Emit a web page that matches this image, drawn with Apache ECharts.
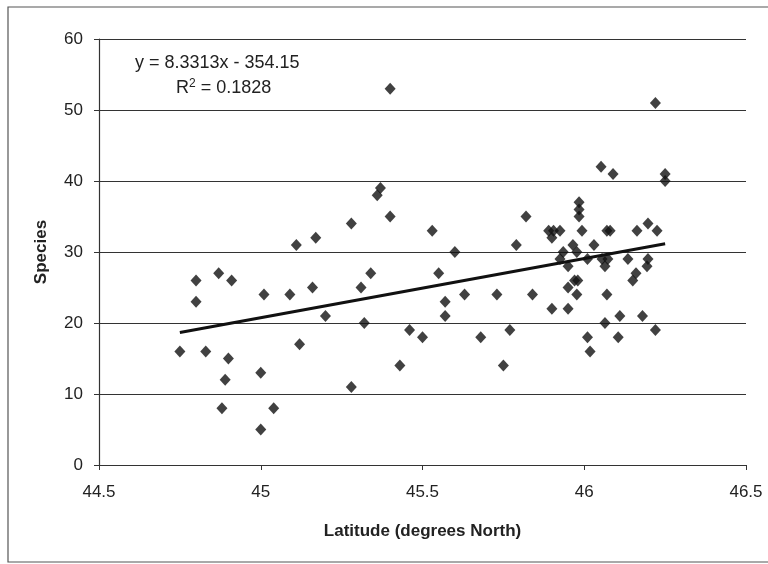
<!DOCTYPE html>
<html>
<head>
<meta charset="utf-8">
<style>html,body{margin:0;padding:0;background:#fff}#c{width:768px;height:564px}</style>
<script src="https://cdn.jsdelivr.net/npm/echarts@6/dist/echarts.min.js"></script>
</head>
<body>
<div id="c"></div>
<script>
var latitude = [44.75,44.80,44.80,44.83,44.87,44.91,44.90,44.89,44.88,45.00,45.00,45.01,45.04,45.09,45.11,45.12,45.16,45.17,45.20,45.28,45.28,45.31,45.32,45.34,45.36,45.37,45.40,45.40,45.43,45.46,45.50,45.53,45.55,45.57,45.57,45.60,45.63,45.68,45.73,45.75,45.77,45.79,45.82,45.84,45.89,45.905,45.925,45.90,45.90,45.935,45.925,45.95,45.95,45.95,45.965,45.97,45.98,45.977,45.977,45.984,45.984,45.984,45.993,46.01,46.01,46.018,46.03,46.052,46.089,46.055,46.064,46.073,46.07,46.08,46.064,46.07,46.105,46.11,46.135,46.15,46.16,46.163,46.18,46.194,46.197,46.197,46.22,46.225,46.22,46.25,46.25];
var species  = [16,26,23,16,27,26,15,12,8,13,5,24,8,24,31,17,25,32,21,34,11,25,20,27,38,39,53,35,14,19,18,33,27,23,21,30,24,18,24,14,19,31,35,24,33,33,33,32,22,30,29,28,25,22,31,26,26,24,30,37,36,35,33,29,18,16,31,42,41,29,28,29,33,33,20,24,18,21,29,26,27,33,21,28,29,34,51,33,19,41,40];
var slope = 8.3313, intercept = -354.15;
var equationText = 'y = 8.3313x - 354.15';
var r2Text = 'R{sup|2} = 0.1828';
var xTicks = [44.5, 45, 45.5, 46, 46.5];
var yTicks = [0, 10, 20, 30, 40, 50, 60];

var points = latitude.map(function (x, i) { return [x, species[i]]; });
var xMin = Math.min.apply(null, latitude), xMax = Math.max.apply(null, latitude);
var trend = [[xMin, slope * xMin + intercept], [xMax, slope * xMax + intercept]];

var font = '"Liberation Sans", Arial, sans-serif';
var chart = echarts.init(document.getElementById('c'), null, {renderer: 'canvas'});
chart.setOption({
  animation: false,
  backgroundColor: '#fff',
  grid: {left: 99, top: 39, right: 22, bottom: 99, containLabel: false},
  xAxis: {
    type: 'value', min: 44.5, max: 46.5, interval: 0.5,
    name: 'Latitude (degrees North)', nameLocation: 'middle', nameGap: 58,
    nameTextStyle: {fontFamily: font, fontWeight: 'bold', fontSize: 17, color: '#222'},
    axisLine: {lineStyle: {color: '#333', width: 1.2}},
    axisTick: {show: true, inside: false, length: 5, lineStyle: {color: '#333'}},
    axisLabel: {fontFamily: font, fontSize: 17, color: '#222', margin: 19,
      formatter: function (v) { return String(v); }},
    splitLine: {show: false}
  },
  yAxis: {
    type: 'value', min: 0, max: 60, interval: 10,
    name: 'Species', nameLocation: 'middle', nameGap: 49, nameRotate: 90,
    nameTextStyle: {fontFamily: font, fontWeight: 'bold', fontSize: 17, color: '#222'},
    axisLine: {show: true, lineStyle: {color: '#333', width: 1.2}},
    axisTick: {show: true, inside: false, length: 5, lineStyle: {color: '#333'}},
    axisLabel: {fontFamily: font, fontSize: 17, color: '#222', margin: 16},
    splitLine: {show: true, lineStyle: {color: '#333', width: 1.2}}
  },
  series: [
    {
      type: 'scatter', data: points, symbol: 'diamond', symbolSize: [11, 12],
      itemStyle: {color: '#111'}, z: 3
    },
    {
      type: 'line', data: trend, showSymbol: false, symbol: 'none',
      lineStyle: {color: '#111', width: 3}, z: 4
    }
  ],
  graphic: [
    {type: 'rect', shape: {x: 8, y: 7, width: 800, height: 555}, style: {fill: 'none', stroke: '#555', lineWidth: 1.2}, silent: true},
    {type: 'text', left: 135, top: 54, style: {text: equationText, font: '18px ' + font, fill: '#222'}},
    {type: 'text', left: 176, top: 78, style: {text: r2Text, font: '18px ' + font, fill: '#222',
      rich: {sup: {fontSize: 12, verticalAlign: 'top', padding: [0, 0, 8, 0], fontFamily: font, fill: '#222'}}}}
  ]
});
</script>
</body>
</html>
